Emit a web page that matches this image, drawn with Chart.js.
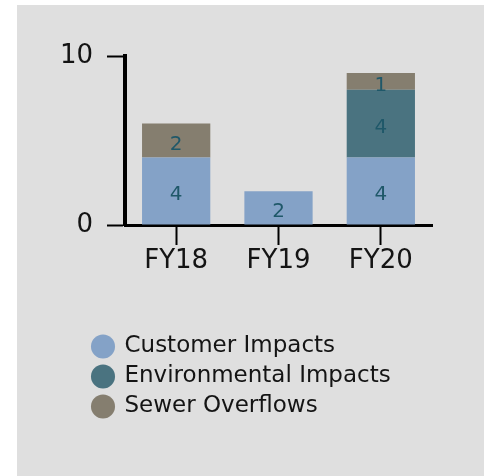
<!DOCTYPE html>
<html>
<head>
<meta charset="utf-8">
<script src="https://cdn.jsdelivr.net/npm/chart.js@4.4.1/dist/chart.umd.min.js"></script>
<style>
  html, body { margin: 0; padding: 0; background: #ffffff; }
  #panel { position: absolute; left: 17px; top: 5px; width: 467px; height: 471px; background: #dfdfdf; }
  #panel canvas { display: block; }
</style>
</head>
<body>
<div id="panel"><canvas id="c" width="467" height="471"></canvas></div>
<script>
const categories = ['FY18', 'FY19', 'FY20'];
const customerImpacts = [4, 2, 4];
const environmentalImpacts = [0, 0, 4];
const sewerOverflows = [2, 0, 1];
const seriesNames = ['Customer Impacts', 'Environmental Impacts', 'Sewer Overflows'];
const seriesColors = ['#84a2c7', '#4a7380', '#857e6f'];
const yTicks = [0, 10];

const FONT = '"DejaVu Sans", sans-serif';
const TEXT = '#141414';
const LEGEND_SHIFT = 69;

const valueLabels = {
  id: 'valueLabels',
  afterDatasetsDraw(chart) {
    const ctx = chart.ctx;
    ctx.save();
    ctx.font = '20px ' + FONT;
    ctx.fillStyle = '#1f5869';
    ctx.textAlign = 'center';
    ctx.textBaseline = 'middle';
    chart.data.datasets.forEach((ds, di) => {
      const meta = chart.getDatasetMeta(di);
      meta.data.forEach((el, i) => {
        const v = ds.data[i];
        if (!v) return;
        const p = el.getProps(['x', 'y', 'base'], true);
        ctx.fillText(String(v), p.x, (p.y + p.base) / 2 + 4);
      });
    });
    ctx.restore();
  }
};

const legendShift = {
  id: 'legendShift',
  afterLayout(chart) {
    const lg = chart.legend;
    if (!lg) return;
    lg.left += LEGEND_SHIFT;
    lg.right += LEGEND_SHIFT;
    if (lg.legendHitBoxes) lg.legendHitBoxes.forEach(h => { h.left += LEGEND_SHIFT; });
  }
};

new Chart(document.getElementById('c'), {
  type: 'bar',
  data: {
    labels: categories,
    datasets: [
      { label: seriesNames[0], data: customerImpacts, backgroundColor: seriesColors[0] },
      { label: seriesNames[1], data: environmentalImpacts, backgroundColor: seriesColors[1] },
      { label: seriesNames[2], data: sewerOverflows, backgroundColor: seriesColors[2] }
    ]
  },
  options: {
    responsive: false,
    animation: false,
    events: [],
    categoryPercentage: 1,
    barPercentage: 0.667,
    layout: { padding: { left: 0, right: 52, top: 51, bottom: 48 } },
    plugins: {
      tooltip: { enabled: false },
      legend: {
        position: 'bottom',
        align: 'start',
        labels: {
          usePointStyle: true,
          pointStyle: 'circle',
          boxWidth: 20,
          boxHeight: 17,
          padding: 7,
          color: TEXT,
          font: { family: FONT, size: 23 }
        }
      }
    },
    scales: {
      x: {
        stacked: true,
        afterFit(scale) { scale.height = 103; },
        grid: { display: true, drawOnChartArea: false, drawTicks: true, tickLength: 20, tickWidth: 2, tickColor: '#000', offset: false },
        border: { display: true, color: '#000', width: 3 },
        ticks: { color: TEXT, font: { family: FONT, size: 26 }, padding: 1 }
      },
      y: {
        stacked: true,
        min: 0,
        max: 10,
        afterFit(scale) { scale.width = 108; },
        afterBuildTicks(scale) { scale.ticks = yTicks.map(v => ({ value: v })); },
        grid: { display: true, drawOnChartArea: false, drawTicks: true, tickLength: 18, tickWidth: 2, tickColor: '#000' },
        border: { display: true, color: '#000', width: 4 },
        ticks: { color: TEXT, font: { family: FONT, size: 26 }, padding: 14 }
      }
    }
  },
  plugins: [valueLabels, legendShift]
});
</script>
</body>
</html>
